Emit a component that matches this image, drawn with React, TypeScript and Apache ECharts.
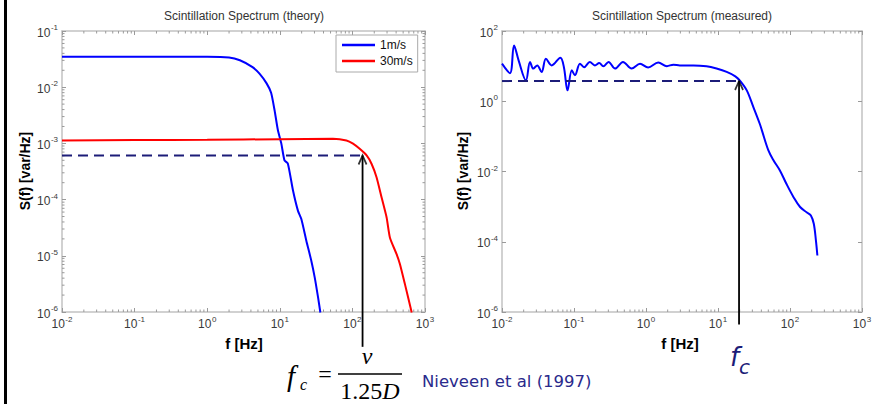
import React, { useEffect, useRef } from "react";
import * as echarts from "echarts";

// ---- theory spectrum (left panel) ----
const theoryFreq1 = [0.01, 0.1, 1, 2.0, 2.82, 4.21, 5.25, 6.58, 7.59, 8.47, 9.42, 10.5, 11.6, 12.9, 15.2, 17.8, 19.8, 23.2, 27.2, 30.3, 33.7, 36.2];
const theorySpec1 = [0.0348, 0.0348, 0.0348, 0.0339, 0.0302, 0.0228, 0.0174, 0.0117, 0.00794, 0.00389, 0.00171, 9.9e-4, 5.0e-4, 4.4e-4, 1.45e-4, 6.3e-5, 4.5e-5, 1.86e-5, 8.1e-6, 4.1e-6, 1.8e-6, 9.8e-7];
const theoryFreq30 = [0.01, 0.1, 1, 10, 54, 82.8, 102, 126, 157, 184, 215, 252, 296, 329, 406, 452, 530, 656];
const theorySpec30 = [1.13e-3, 1.15e-3, 1.16e-3, 1.19e-3, 1.21e-3, 1.13e-3, 9.9e-4, 8.0e-4, 6.1e-4, 4.3e-4, 2.5e-4, 1.1e-4, 4.8e-5, 2.1e-5, 1.07e-5, 7.1e-6, 3.1e-6, 9.8e-7];

// ---- measured spectrum (right panel) ----
const measuredFreq = [0.01, 0.0129, 0.0147, 0.017, 0.0215, 0.0245, 0.0272, 0.0309, 0.0355, 0.0407, 0.049, 0.0646, 0.0724, 0.0813, 0.0933, 0.103, 0.121, 0.138, 0.166, 0.195, 0.224, 0.255, 0.302, 0.372, 0.479, 0.631, 0.826, 1.07, 1.48, 1.95, 2.4, 2.95, 4.57, 6.92, 9.55, 13.2, 17.4, 20.4, 25.1, 30.9, 38.0, 40.7, 50.1, 58.9, 72.4, 89.1, 112, 138, 170, 195, 214, 229, 240];
const measuredSpec = [11.8, 6.31, 38.9, 14.6, 3.94, 13.2, 8.51, 10.5, 6.76, 16.2, 10.5, 17.4, 9.33, 2.04, 7.59, 5.5, 11.7, 9.33, 13.2, 10.5, 12.3, 9.89, 13.2, 8.51, 13.2, 8.51, 11.7, 9.12, 12.6, 10.0, 11.0, 10.5, 10.5, 9.89, 8.51, 6.84, 5.13, 3.76, 2.04, 0.692, 0.229, 0.148, 0.0398, 0.0209, 0.0107, 0.00447, 0.00186, 9.77e-4, 6.92e-4, 5.62e-4, 3.24e-4, 1.1e-4, 4.07e-5];

// ---- annotations (cut-off frequency markers) ----
const theoryDash = [[0.01, 6.1e-4], [138, 6.1e-4]];
const theoryArrow = [[138, 2.4e-7], [138, 6.1e-4]];
const measuredDash = [[0.01, 3.76], [19.6, 3.76]];
const measuredArrow = [[19.6, 4.4e-7], [19.6, 3.76]];

// ---- axes ----
const freqRange = [0.01, 1000];
const theoryRange = [1e-6, 0.1];
const measuredRange = [1e-6, 100];
const minorFactors = [2, 3, 4, 5, 6, 7, 8, 9];
const freqDecades = [0.01, 0.1, 1, 10, 100];
const theoryDecades = [1e-6, 1e-5, 1e-4, 1e-3, 1e-2];

const titles = ["Scintillation Spectrum (theory)", "Scintillation Spectrum (measured)"];
const legendNames = ["1m/s", "30m/s"];

const SANS = '"Liberation Sans", Arial, sans-serif';
const SERIF = '"Liberation Serif", "Times New Roman", serif';
const VERD = '"DejaVu Sans", Verdana, sans-serif';
const AX = "#c2c2c2";
const TICK = "#9a9a9a";
const LBL = "#3a3a3a";
const NAVY = "#1c1c78";

const pair = (xs: number[], ys: number[]) => xs.map((x, i) => [x, ys[i]]);
const expLabel = (v: number) => `{b|10}{s|${Math.round(Math.log10(v))}}`;
const richLbl = {
  b: { fontSize: 12, fontFamily: SANS, color: LBL, lineHeight: 15, verticalAlign: "bottom" },
  s: { fontSize: 8, fontFamily: SANS, color: LBL, lineHeight: 15, verticalAlign: "top", padding: [0, 0, 0, 0.5] },
};

function mkAxis(kind: "x" | "y", grid: number, range: number[], pos: string, labels: boolean, base = 10, split = 5): any {
  return {
    type: "log",
    logBase: base,
    gridIndex: grid,
    position: pos,
    min: range[0],
    max: range[1],
    splitNumber: split,
    axisLine: { show: true, onZero: false, lineStyle: { color: AX, width: 1.5 } },
    axisTick: { show: true, inside: true, length: 4, lineStyle: { color: TICK, width: 1 } },
    splitLine: { show: false },
    minorTick: { show: false },
    axisLabel: {
      show: labels,
      formatter: expLabel,
      rich: richLbl,
      margin: kind === "x" ? 3 : 4,
      hideOverlap: false,
      showMinLabel: true,
      showMaxLabel: true,
    },
  };
}

function minorX(params: any, api: any) {
  const cs = params.coordSys;
  const p = api.coord([api.value(0), api.value(1)]);
  const yb = cs.y + cs.height;
  const yt = cs.y;
  return {
    type: "group",
    children: [
      { type: "line", shape: { x1: p[0], y1: yb, x2: p[0], y2: yb - 2.5 }, style: { stroke: TICK, lineWidth: 1 } },
      { type: "line", shape: { x1: p[0], y1: yt, x2: p[0], y2: yt + 2.5 }, style: { stroke: TICK, lineWidth: 1 } },
    ],
  };
}
function minorY(params: any, api: any) {
  const cs = params.coordSys;
  const p = api.coord([api.value(0), api.value(1)]);
  const xl = cs.x;
  const xr = cs.x + cs.width;
  return {
    type: "group",
    children: [
      { type: "line", shape: { x1: xl, y1: p[1], x2: xl + 2.5, y2: p[1] }, style: { stroke: TICK, lineWidth: 1 } },
      { type: "line", shape: { x1: xr, y1: p[1], x2: xr - 2.5, y2: p[1] }, style: { stroke: TICK, lineWidth: 1 } },
    ],
  };
}

const arrowHead = {
  type: "scatter",
  symbol: "path://M0,9 L4,0 L8,9",
  symbolSize: [8, 9],
  symbolOffset: [0, 4.5],
  itemStyle: { color: "rgba(0,0,0,0)", borderColor: "#000", borderWidth: 1.8 },
  silent: true,
  z: 6,
};

export default function App() {
  const ref = useRef<HTMLDivElement>(null);
  useEffect(() => {
    if (!ref.current) return;
    const chart = echarts.init(ref.current, null, { renderer: "svg" });
    const xMinorData: number[][] = [];
    freqDecades.forEach((d) => minorFactors.forEach((m) => xMinorData.push([d * m, 1e-3])));
    const yMinorData: number[][] = [];
    theoryDecades.forEach((d) => minorFactors.forEach((m) => yMinorData.push([1, d * m])));
    const xMinorRight: number[][] = [];
    freqDecades.forEach((d) => minorFactors.forEach((m) => xMinorRight.push([d * m, 1])));

    chart.setOption({
      animation: false,
      backgroundColor: "#fff",
      grid: [
        { left: 62, top: 31, width: 363, height: 281 },
        { left: 502, top: 31, width: 360, height: 281 },
      ],
      xAxis: [
        mkAxis("x", 0, freqRange, "bottom", true),
        mkAxis("x", 0, freqRange, "top", false),
        mkAxis("x", 1, freqRange, "bottom", true),
        mkAxis("x", 1, freqRange, "top", false),
      ],
      yAxis: [
        mkAxis("y", 0, theoryRange, "left", true),
        mkAxis("y", 0, theoryRange, "right", false),
        mkAxis("y", 1, measuredRange, "left", true, 100, 4),
        mkAxis("y", 1, measuredRange, "right", false, 100, 4),
      ],
      legend: {
        data: legendNames,
        orient: "vertical",
        left: 336,
        top: 35,
        icon: "rect",
        itemWidth: 33,
        itemHeight: 2.5,
        itemGap: 4,
        padding: [4, 5, 5, 6],
        borderColor: "#aaa",
        borderWidth: 1,
        backgroundColor: "#fff",
        textStyle: { fontFamily: SANS, fontSize: 12, color: "#111" },
        selectedMode: false,
      },
      series: [
        { type: "custom", xAxisIndex: 0, yAxisIndex: 0, renderItem: minorX, data: xMinorData, silent: true, clip: false },
        { type: "custom", xAxisIndex: 0, yAxisIndex: 0, renderItem: minorY, data: yMinorData, silent: true, clip: false },
        { type: "custom", xAxisIndex: 2, yAxisIndex: 2, renderItem: minorX, data: xMinorRight, silent: true, clip: false },
        {
          name: legendNames[0], type: "line", xAxisIndex: 0, yAxisIndex: 0, data: pair(theoryFreq1, theorySpec1),
          showSymbol: false, symbol: "none", smooth: 0.2, lineStyle: { color: "#0000ff", width: 2 }, itemStyle: { color: "#0000ff" }, z: 3,
        },
        {
          name: legendNames[1], type: "line", xAxisIndex: 0, yAxisIndex: 0, data: pair(theoryFreq30, theorySpec30),
          showSymbol: false, symbol: "none", smooth: 0.2, lineStyle: { color: "#ff0000", width: 2 }, itemStyle: { color: "#ff0000" }, z: 3,
        },
        {
          type: "line", xAxisIndex: 0, yAxisIndex: 0, data: theoryDash, symbol: "none",
          lineStyle: { color: NAVY, width: 2, type: [10, 6] }, z: 4, silent: true,
        },
        {
          type: "line", xAxisIndex: 0, yAxisIndex: 0, data: theoryArrow, symbol: "none", clip: false,
          lineStyle: { color: "#000", width: 1.8 }, z: 5, silent: true,
        },
        { ...arrowHead, xAxisIndex: 0, yAxisIndex: 0, data: [theoryArrow[1]] },
        {
          name: "measured", type: "line", xAxisIndex: 2, yAxisIndex: 2, data: pair(measuredFreq, measuredSpec),
          showSymbol: false, symbol: "none", smooth: 0.35, lineStyle: { color: "#0000ff", width: 2 }, z: 3,
        },
        {
          type: "line", xAxisIndex: 2, yAxisIndex: 2, data: measuredDash, symbol: "none",
          lineStyle: { color: NAVY, width: 2, type: [10, 6] }, z: 4, silent: true,
        },
        {
          type: "line", xAxisIndex: 2, yAxisIndex: 2, data: measuredArrow, symbol: "none", clip: false,
          lineStyle: { color: "#000", width: 1.8 }, z: 5, silent: true,
        },
        { ...arrowHead, xAxisIndex: 2, yAxisIndex: 2, data: [measuredArrow[1]] },
      ],
      graphic: [
        { type: "rect", shape: { x: 4, y: 0, width: 3, height: 404 }, style: { fill: "#000" }, silent: true },
        { type: "text", x: 244, y: 16, style: { text: titles[0], fontFamily: SANS, fontSize: 12, fill: "#333", align: "center", verticalAlign: "middle" } },
        { type: "text", x: 682, y: 16, style: { text: titles[1], fontFamily: SANS, fontSize: 12, fill: "#333", align: "center", verticalAlign: "middle" } },
        { type: "text", x: 25, y: 171, rotation: Math.PI / 2, style: { text: "S(f) [var/Hz]", fontFamily: SANS, fontWeight: "bold", fontSize: 14, fill: "#000", align: "center", verticalAlign: "middle" } },
        { type: "text", x: 463, y: 171, rotation: Math.PI / 2, style: { text: "S(f) [var/Hz]", fontFamily: SANS, fontWeight: "bold", fontSize: 14, fill: "#000", align: "center", verticalAlign: "middle" } },
        { type: "text", x: 244, y: 343, style: { text: "f [Hz]", fontFamily: SANS, fontWeight: "bold", fontSize: 15, fill: "#000", align: "center", verticalAlign: "middle" } },
        { type: "text", x: 680, y: 343, style: { text: "f [Hz]", fontFamily: SANS, fontWeight: "bold", fontSize: 15, fill: "#000", align: "center", verticalAlign: "middle" } },
        // formula
        { type: "text", x: 287, y: 376, style: { text: "f", fontFamily: SERIF, fontStyle: "italic", fontSize: 29, fill: "#000", align: "left", verticalAlign: "middle" } },
        { type: "text", x: 300, y: 384, style: { text: "c", fontFamily: SERIF, fontStyle: "italic", fontSize: 16, fill: "#000", align: "left", verticalAlign: "middle" } },
        { type: "text", x: 325, y: 374, style: { text: "=", fontFamily: SERIF, fontSize: 24, fill: "#000", align: "center", verticalAlign: "middle" } },
        { type: "text", x: 367, y: 356, style: { text: "v", fontFamily: SERIF, fontStyle: "italic", fontSize: 24, fill: "#000", align: "center", verticalAlign: "middle" } },
        { type: "line", shape: { x1: 338, y1: 374, x2: 402, y2: 374 }, style: { stroke: "#000", lineWidth: 1.3 } },
        {
          type: "text", x: 370, y: 391,
          style: {
            text: "{n|1.25}{i|D}", align: "center", verticalAlign: "middle",
            rich: {
              n: { fontFamily: SERIF, fontSize: 24, fill: "#000", color: "#000" },
              i: { fontFamily: SERIF, fontSize: 24, fontStyle: "italic", fill: "#000", color: "#000" },
            },
          },
        },
        { type: "text", x: 422, y: 381, style: { text: "Nieveen et al (1997)", fontFamily: VERD, fontSize: 16.5, fill: "#2a2a8c", align: "left", verticalAlign: "middle" } },
        { type: "text", x: 730, y: 357, style: { text: "f", fontFamily: VERD, fontStyle: "italic", fontSize: 26, fill: NAVY, align: "left", verticalAlign: "middle" } },
        { type: "text", x: 739, y: 367, style: { text: "c", fontFamily: VERD, fontStyle: "italic", fontSize: 20, fill: NAVY, align: "left", verticalAlign: "middle" } },
      ],
    });
    return () => chart.dispose();
  }, []);
  return <div ref={ref} style={{ position: "absolute", left: 0, top: 0, width: 883, height: 404 }} />;
}
